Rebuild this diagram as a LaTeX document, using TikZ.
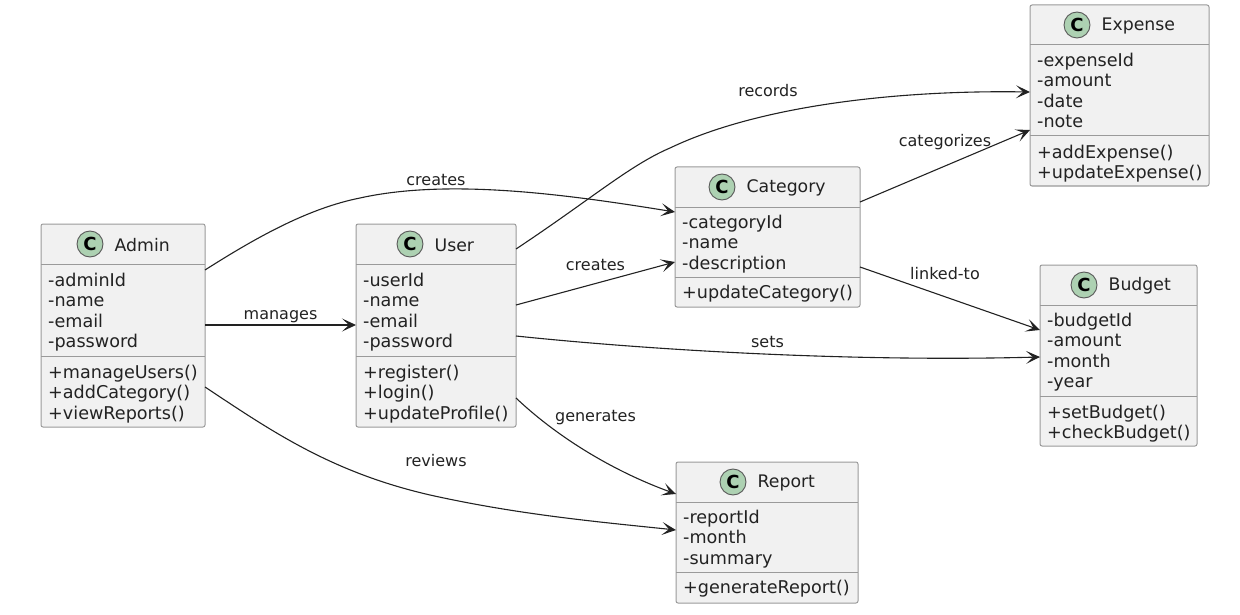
\documentclass[tikz,border=0pt]{standalone}
\usepackage{fontspec}
\setmainfont{DejaVu Sans}
\usetikzlibrary{arrows.meta,calc}
\definecolor{boxfill}{HTML}{F1F1F1}
\definecolor{boxline}{HTML}{9A9A9A}
\definecolor{spot}{HTML}{ADD1B2}
\definecolor{ink}{HTML}{222222}
\tikzset{
  x=1pt,y=-1pt,
  classbox/.style={draw=boxline,fill=boxfill,line width=1pt,rounded corners=2pt,anchor=north west,inner sep=0pt,outer sep=0pt},
  sepline/.style={draw=boxline,line width=1pt},
  spotc/.style={circle,draw=ink!75,fill=spot,line width=.9pt,minimum size=26pt,inner sep=0pt,font=\fontsize{18}{18}\selectfont\bfseries,text=black},
  title/.style={font=\fontsize{17.3}{20}\selectfont,text=ink,anchor=west,inner sep=0pt},
  members/.style={font=\fontsize{17.6}{20.35}\selectfont,text=ink,anchor=north west,align=left,inner sep=0pt},
  lbl/.style={font=\fontsize{16}{19}\selectfont,text=ink,inner sep=0pt},
  conn/.style={draw=ink,line width=1.1pt,-{Stealth[length=14pt,width=13pt,inset=7pt]}},
}
\newcommand{\classbox}[9]{%
  % name, x, y, w, h, sep1, sep2, spot x offset, title
  \node[classbox,minimum width=#4pt,minimum height=#5pt] (#1) at (#2,#3) {};
  \draw[sepline] ($(#1.north west)+(0,#6)$) -- ($(#1.north east)+(0,#6)$);
  \draw[sepline] ($(#1.north west)+(0,#7)$) -- ($(#1.north east)+(0,#7)$);
  \node[spotc] (#1spot) at ($(#1.north west)+(#8,20)$) {C};
  \node[title] (#1title) at ($(#1spot.east)+(11,1)$) {#9};
}
\begin{document}
\begin{tikzpicture}
\useasboundingbox (0,0) rectangle (1240,615);
\classbox{admin}{41}{224}{164}{203}{40}{132}{49}{Admin}
\classbox{user}{356}{224}{160}{203}{40}{132}{54}{User}
\classbox{category}{675}{167}{185}{140}{40}{110}{47}{Category}
\classbox{expense}{1030}{5}{179}{181}{40}{131}{47}{Expense}
\classbox{budget}{1040}{265}{157}{181}{40}{131}{44}{Budget}
\classbox{report}{676}{462}{182}{141}{40}{110}{57}{Report}

\node[members] (adminattr) at ($(admin.north west)+(7,49)$) {-adminId\\-name\\-email\\-password};
\node[members] (adminop) at ($(admin.north west)+(7,141)$) {+manageUsers()\\+addCategory()\\+viewReports()};
\node[members] (userattr) at ($(user.north west)+(7,49)$) {-userId\\-name\\-email\\-password};
\node[members] (userop) at ($(user.north west)+(7,141)$) {+register()\\+login()\\+updateProfile()};
\node[members] (categoryattr) at ($(category.north west)+(7,48)$) {-categoryId\\-name\\-description};
\node[members] (categoryop) at ($(category.north west)+(7,118)$) {+updateCategory()};
\node[members] (expenseattr) at ($(expense.north west)+(7,48)$) {-expenseId\\-amount\\-date\\-note};
\node[members] (expenseop) at ($(expense.north west)+(7,139.5)$) {+addExpense()\\+updateExpense()};
\node[members] (budgetattr) at ($(budget.north west)+(7,48)$) {-budgetId\\-amount\\-month\\-year};
\node[members] (budgetop) at ($(budget.north west)+(7,140)$) {+setBudget()\\+checkBudget()};
\node[members] (reportattr) at ($(report.north west)+(7,48)$) {-reportId\\-month\\-summary};
\node[members] (reportop) at ($(report.north west)+(7,118)$) {+generateReport()};

\draw[conn] ($(admin.north east)+(0,46)$) .. controls (260,235) and (310,208) .. (360,198) .. controls (450,178) and (570,195) .. ($(category.north west)+(0,45)$);
\draw[conn] ($(admin.north east)+(0,101)$) -- ($(user.north west)+(0,101)$);
\draw[conn] ($(admin.north east)+(0,163)$) .. controls (270,430) and (330,472) .. (430,495) .. controls (520,515) and (600,522) .. ($(report.north west)+(0,68)$);
\draw[conn] ($(user.north east)+(0,25)$) .. controls (590,200) and (630,165) .. (670,148) .. controls (760,105) and (900,90) .. ($(expense.north west)+(0,87)$);
\draw[conn] ($(user.north east)+(0,81)$) -- ($(category.north west)+(0,95)$);
\draw[conn] ($(user.north east)+(0,112)$) .. controls (650,350) and (850,362) .. ($(budget.north west)+(0,92)$);
\draw[conn] ($(user.north east)+(0,174)$) .. controls (555,435) and (610,470) .. ($(report.north west)+(0,32)$);
\draw[conn] ($(category.north east)+(0,35)$) -- ($(expense.north west)+(0,125)$);
\draw[conn] ($(category.north east)+(0,100)$) -- ($(budget.north west)+(0,65)$);

\node[lbl] (l1) at (436,180) {creates};
\node[lbl] (l2) at (280.5,317) {manages};
\node[lbl] (l3) at (436,461) {reviews};
\node[lbl] (l4) at (768,91) {records};
\node[lbl] (l5) at (595.5,265) {creates};
\node[lbl] (l6) at (767.5,342) {sets};
\node[lbl] (l7) at (595.5,418) {generates};
\node[lbl] (l8) at (945,142) {categorizes};
\node[lbl] (l9) at (945,274) {linked-to};
\end{tikzpicture}
\end{document}
